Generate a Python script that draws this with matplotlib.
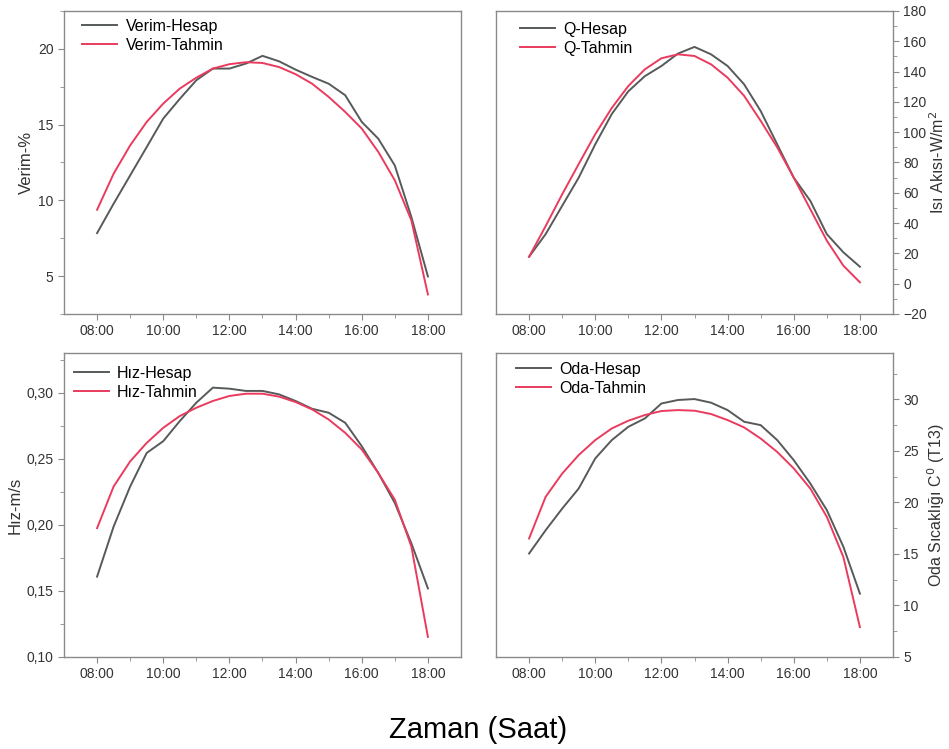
import matplotlib
matplotlib.use("Agg")
import matplotlib.pyplot as plt
from matplotlib.ticker import FixedLocator, FuncFormatter, MultipleLocator

plt.rcParams["font.family"] = ["Liberation Sans", "DejaVu Sans"]

# hours of day, every half hour from 08:00 to 18:00
hours = [8.0, 8.5, 9.0, 9.5, 10.0, 10.5, 11.0, 11.5, 12.0, 12.5, 13.0,
         13.5, 14.0, 14.5, 15.0, 15.5, 16.0, 16.5, 17.0, 17.5, 18.0]
hour_ticks = [8, 10, 12, 14, 16, 18]
hour_labels = ["08:00", "10:00", "12:00", "14:00", "16:00", "18:00"]

verim_hesap = [7.84, 9.78, 11.65, 13.52, 15.4, 16.7, 17.93, 18.7, 18.7, 19.03, 19.54,
               19.18, 18.63, 18.15, 17.7, 16.94, 15.18, 14.07, 12.3, 8.9, 4.98]
verim_tahmin = [9.38, 11.76, 13.63, 15.18, 16.39, 17.38, 18.1, 18.7, 18.99, 19.12, 19.07,
                18.8, 18.33, 17.7, 16.83, 15.84, 14.74, 13.2, 11.32, 8.68, 3.79]

q_hesap = [17.8, 32.7, 51.4, 70.0, 92.0, 112.0, 127.0, 137.0, 143.7, 151.9, 156.3,
           151.4, 143.7, 131.6, 114.0, 92.0, 70.0, 54.7, 32.7, 20.7, 11.2]
q_tahmin = [17.8, 38.0, 59.0, 79.0, 98.7, 116.0, 130.5, 141.5, 148.8, 151.4, 150.3,
            144.8, 136.0, 124.0, 107.5, 90.0, 70.0, 49.2, 28.4, 11.9, 0.9]

hiz_hesap = [0.1608, 0.1987, 0.229, 0.2544, 0.2633, 0.2785, 0.2924, 0.3038, 0.303, 0.3013, 0.3013,
             0.2987, 0.2937, 0.2878, 0.2848, 0.2772, 0.2595, 0.2392, 0.2165, 0.186, 0.1519]
hiz_tahmin = [0.1975, 0.229, 0.248, 0.262, 0.2734, 0.2823, 0.2886, 0.2937, 0.2975, 0.2992, 0.2992,
              0.297, 0.2929, 0.2873, 0.2797, 0.2696, 0.257, 0.2392, 0.219, 0.1835, 0.1152]

oda_hesap = [15.04, 17.3, 19.4, 21.35, 24.27, 26.05, 27.34, 28.15, 29.6, 29.94, 30.03,
             29.68, 28.96, 27.83, 27.5, 26.05, 24.1, 21.84, 19.25, 15.7, 11.15]
oda_tahmin = [16.5, 20.54, 22.8, 24.6, 26.05, 27.18, 27.93, 28.48, 28.87, 28.96, 28.9,
              28.58, 27.99, 27.28, 26.2, 24.9, 23.3, 21.35, 18.6, 14.7, 7.9]

GREY = "#565a58"
RED = "#ea3b5e"
SPINE = "#8a8a8a"
TEXT = "#333333"

fig = plt.figure(figsize=(9.49, 7.49), dpi=100)
W, H = 949, 749


def add_axes(left, top, right, bottom):
    return fig.add_axes([left / W, 1 - bottom / H, (right - left) / W, (bottom - top) / H])


def style(ax, right_side=False):
    for sp in ax.spines.values():
        sp.set_color(SPINE)
        sp.set_linewidth(1.0)
    ax.set_xlim(7, 19)
    ax.xaxis.set_major_locator(FixedLocator(hour_ticks))
    ax.set_xticklabels(hour_labels)
    ax.xaxis.set_minor_locator(FixedLocator([9, 11, 13, 15, 17]))
    ax.tick_params(axis="both", which="both", direction="out", color=SPINE,
                   labelcolor=TEXT, labelsize=10)
    ax.tick_params(which="major", length=4)
    ax.tick_params(which="minor", length=3)
    if right_side:
        ax.yaxis.tick_right()
        ax.yaxis.set_label_position("right")


# box (px), series, labels, ylim, tick steps, y label, right side, format, label x, legend anchor
panels = [
    ((64, 11, 461, 314), verim_hesap, verim_tahmin, "Verim-Hesap", "Verim-Tahmin",
     (2.5, 22.5), 5, 2.5, "Verim-%", False, None, -0.076, (0.030, 0.995)),
    ((496, 11, 893, 314), q_hesap, q_tahmin, "Q-Hesap", "Q-Tahmin",
     (-20, 180), 20, 10, "Isı Akısı-W/m$^2$", True, None, 1.090, (0.045, 0.985)),
    ((64, 353, 461, 657), hiz_hesap, hiz_tahmin, "Hız-Hesap", "Hız-Tahmin",
     (0.10, 0.33), 0.05, 0.025, "Hız-m/s", False, "{:.2f}", -0.103, (0.008, 0.978)),
    ((496, 353, 893, 657), oda_hesap, oda_tahmin, "Oda-Hesap", "Oda-Tahmin",
     (5, 34.5), 5, 2.5, "Oda Sıcaklığı C$^0$ (T13)", True, None, 1.082, (0.035, 0.992)),
]

for (box, hesap, tahmin, lab_h, lab_t, ylim, major, minor, ylabel, right, fmt,
     label_x, anchor) in panels:
    ax = add_axes(*box)
    ax.plot(hours, hesap, color=GREY, lw=1.4, label=lab_h)
    ax.plot(hours, tahmin, color=RED, lw=1.4, label=lab_t)
    ax.set_ylim(*ylim)
    ax.yaxis.set_major_locator(MultipleLocator(major))
    ax.yaxis.set_minor_locator(MultipleLocator(minor))
    if fmt:
        ax.yaxis.set_major_formatter(FuncFormatter(lambda v, p, f=fmt: f.format(v).replace(".", ",")))
    style(ax, right_side=right)
    ax.set_ylabel(ylabel, fontsize=11.5 if right else 12, color=TEXT)
    ax.yaxis.set_label_coords(label_x, 0.5)
    ax.legend(loc="upper left", bbox_to_anchor=anchor, frameon=False, fontsize=11.5,
              handlelength=2.2, handletextpad=0.5, borderaxespad=0.0, labelspacing=0.25)

fig.text(478 / W, 1 - 730 / H, "Zaman (Saat)", ha="center", va="center", fontsize=21)

fig.savefig("out.png", dpi=100)
